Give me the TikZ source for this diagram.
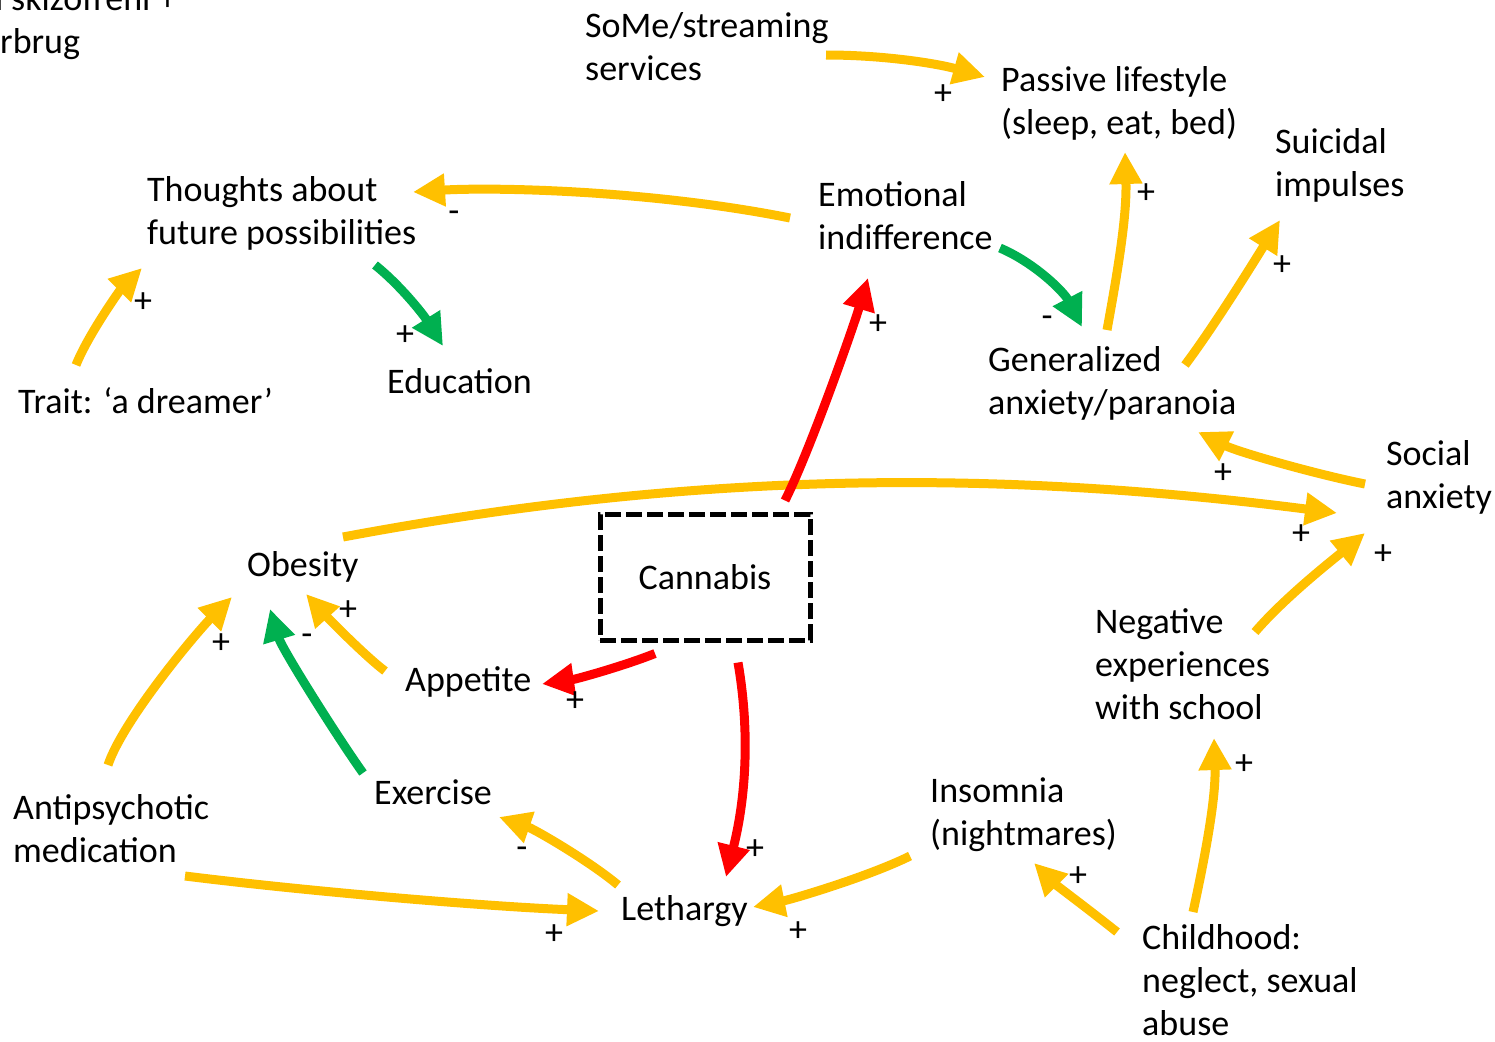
\documentclass[tikz,border=0pt]{standalone}
\usepackage{fontspec}
\setmainfont{Carlito}
\usetikzlibrary{arrows.meta}
\definecolor{cyel}{HTML}{FFC000}
\definecolor{cgrn}{HTML}{00B050}
\definecolor{cred}{HTML}{FF0000}
% fixed-height strut so that every label's top sits 30pt above its first baseline
\newcommand\fstrut{\rule{0pt}{30pt}}
\begin{document}
\begin{tikzpicture}[x=1pt,y=-1pt,
  txt/.style={anchor=north west, inner sep=0pt, align=left,
    font=\fontsize{36}{43}\selectfont},
  sgn/.style={anchor=base, inner sep=0pt, font=\fontsize{36}{43}\selectfont},
  link/.style={line width=9pt, -{Triangle[length=32pt,width=31pt]}},
  lkY/.style={link, draw=cyel},
  lkG/.style={link, draw=cgrn},
  lkR/.style={link, draw=cred}]
\useasboundingbox (0,0) rectangle (1495,1041);

% factors
\node[txt] (skz) at (-16,-20) {\fstrut n skizofreni +\\\hspace*{16pt}rbrug};
\node[txt] (some) at (585,7) {\fstrut SoMe/streaming\\services};
\node[txt] (passive) at (1001,61) {\fstrut Passive lifestyle\\(sleep, eat, bed)};
\node[txt] (suic) at (1275,123) {\fstrut Suicidal\\impulses};
\node[txt] (thought) at (147,171) {\fstrut Thoughts about\\future possibilities};
\node[txt] (emo) at (818,176) {\fstrut Emotional\\indifference};
\node[txt] (edu) at (387,363) {\fstrut Education};
\node[txt] (trait) at (18,383) {\fstrut Trait: ‘a dreamer’};
\node[txt] (gen) at (988,341) {\fstrut Generalized\\anxiety/paranoia};
\node[txt] (social) at (1386,435) {\fstrut Social\\anxiety};
\node[txt] (obes) at (247,546) {\fstrut Obesity};
\node[draw, line width=5pt, dash pattern=on 16pt off 5pt, inner sep=0pt,
  minimum width=210pt, minimum height=126pt,
  font=\fontsize{36}{43}\selectfont] (canna) at (705,577) {Cannabis};
\node[txt] (appet) at (405,661) {\fstrut Appetite};
\node[txt] (neg) at (1095,603) {\fstrut Negative\\experiences\\with school};
\node[txt] (anti) at (13,789) {\fstrut Antipsychotic\\medication};
\node[txt] (exer) at (374,774) {\fstrut Exercise};
\node[txt] (insom) at (930,772) {\fstrut Insomnia\\(nightmares)};
\node[txt] (leth) at (621,890) {\fstrut Lethargy};
\node[txt] (child) at (1142,919) {\fstrut Childhood:\\neglect, sexual\\abuse};

% causal links
\draw[lkY] ([shift={(241,48)}]some.north west) .. controls +(60,0) and +(-46,-13) .. ([shift={(-16,16)}]passive.north west);
\draw[lkY] ([shift={(-28,42)}]emo.north west) .. controls +(-140,-28) and +(80,-5) .. ([shift={(266,21)}]thought.north west);
\draw[lkG] ([shift={(228,94)}]thought.north west) .. controls +(25,20) and +(-20,-32) .. ([shift={(56,-17)}]edu.north west);
\draw[lkY] ([shift={(58,-18)}]trait.north west) .. controls +(12,-30) and +(-22,22) .. ([shift={(-5,97)}]thought.north west);
\draw[lkG] ([shift={(182,72)}]emo.north west) .. controls +(35,15) and +(-18,-35) .. ([shift={(94,-14)}]gen.north west);
\draw[lkY] ([shift={(119,-11)}]gen.north west) .. controls +(10,-55) and +(2,65) .. ([shift={(124,91)}]passive.north west);
\draw[lkY] ([shift={(197,24)}]gen.north west) .. controls +(30,-40) and +(-25,40) .. ([shift={(5,97)}]suic.north west);
\draw[lkY] ([shift={(-21,49)}]social.north west) .. controls +(-50,-10) and +(40,20) .. ([shift={(210,91)}]gen.north west);
\draw[lkY] ([shift={(96,-9)}]obes.north west) .. controls +(357,-67) and +(-337,-43) .. ([shift={(-49,78)}]social.north west);
\draw[lkR] ([shift={(80,-11)}]canna.north) .. controls +(25,-50) and +(-15,50) .. ([shift={(50,102)}]emo.north west);
\draw[lkR] ([shift={(-50,11)}]canna.south) .. controls +(-30,12) and +(35,-5) .. ([shift={(137,23)}]appet.north west);
\draw[lkR] ([shift={(33,20)}]canna.south) .. controls +(12,70) and +(20,-80) .. ([shift={(105,-13)}]leth.north west);
\draw[lkY] ([shift={(-20,10)}]appet.north west) .. controls +(-20,-15) and +(20,22) .. ([shift={(59,48)}]obes.north west);
\draw[lkG] ([shift={(-11,-1)}]exer.north west) .. controls +(-25,-35) and +(12,40) .. ([shift={(23,63)}]obes.north west);
\draw[lkY] ([shift={(95,-24)}]anti.north west) .. controls +(15,-45) and +(-35,35) .. ([shift={(-15,51)}]obes.north west);
\draw[lkY] ([shift={(172,87)}]anti.north west) .. controls +(120,15) and +(-120,-5) .. ([shift={(-22,21)}]leth.north west);
\draw[lkY] ([shift={(-3,-5)}]leth.north west) .. controls +(-30,-25) and +(35,12) .. ([shift={(125,43)}]exer.north west);
\draw[lkY] ([shift={(-20,84)}]insom.north west) .. controls +(-40,20) and +(40,-8) .. ([shift={(132,17)}]leth.north west);
\draw[lkY] ([shift={(-25,13)}]child.north west) .. controls +(-25,-20) and +(22,22) .. ([shift={(104,91)}]insom.north west);
\draw[lkY] ([shift={(51,-7)}]child.north west) .. controls +(12,-55) and +(2,60) .. ([shift={(119,135)}]neg.north west);
\draw[lkY] ([shift={(160,29)}]neg.north west) .. controls +(30,-35) and +(-30,25) .. ([shift={(-21,98)}]social.north west);

% link polarities
\node[sgn] (p1) at (943,104) {+};
\node[sgn] (p2) at (454,222) {-};
\node[sgn] (p3) at (405,345) {+};
\node[sgn] (p4) at (143,312) {+};
\node[sgn] (p5) at (1047,327) {-};
\node[sgn] (p6) at (1146,203) {+};
\node[sgn] (p7) at (1282,275) {+};
\node[sgn] (p8) at (1223,483) {+};
\node[sgn] (p9) at (1301,544) {+};
\node[sgn] (p10) at (878,334) {+};
\node[sgn] (p11) at (575,711) {+};
\node[sgn] (p12) at (755,859) {+};
\node[sgn] (p13) at (348,620) {+};
\node[sgn] (p14) at (307,645) {-};
\node[sgn] (p15) at (221,653) {+};
\node[sgn] (p16) at (554,944) {+};
\node[sgn] (p17) at (522,858) {-};
\node[sgn] (p18) at (798,941) {+};
\node[sgn] (p19) at (1078,886) {+};
\node[sgn] (p20) at (1244,774) {+};
\node[sgn] (p21) at (1383,564) {+};
\end{tikzpicture}
\end{document}
